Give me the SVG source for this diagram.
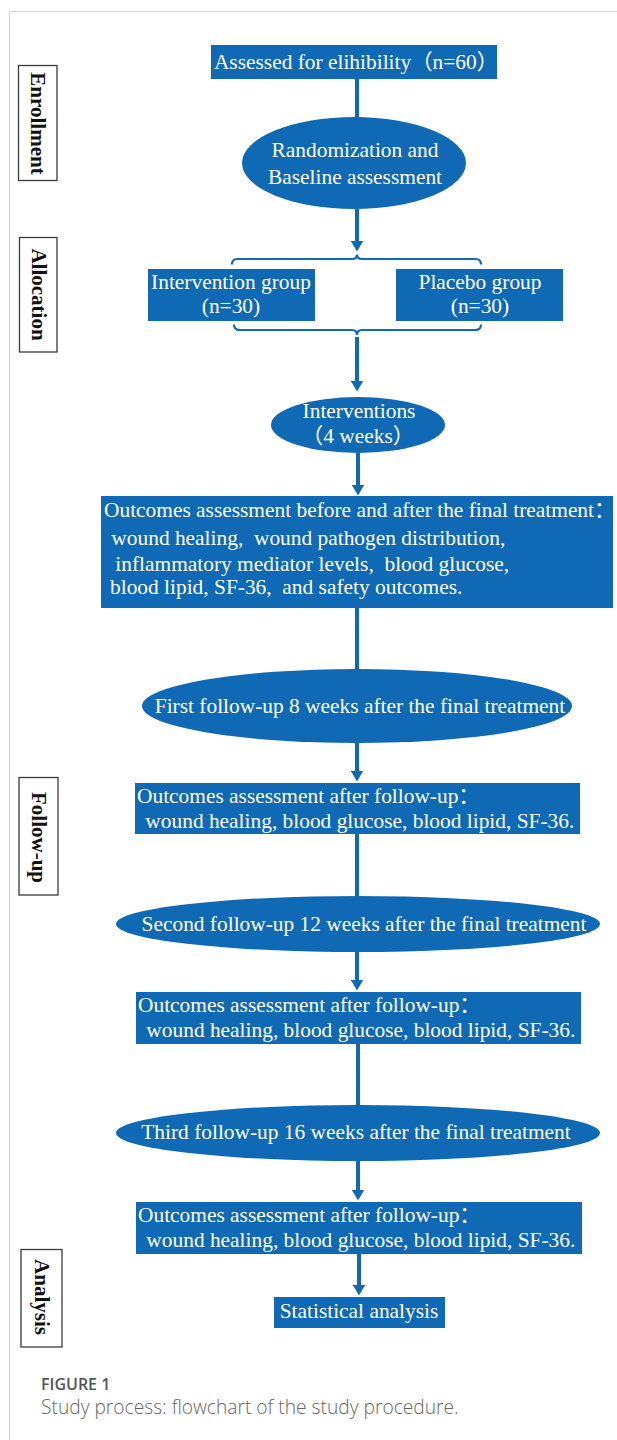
<svg xmlns="http://www.w3.org/2000/svg" width="617" height="1440" viewBox="0 0 617 1440">
<defs>
<style>
.n{fill:#0f69b4;}
.t{font-family:"Liberation Serif","Times New Roman","Noto Sans CJK SC",serif;font-size:21.4px;fill:#ffffff;white-space:pre;}
.c{text-anchor:middle;}
.lb{fill:#ffffff;stroke:#3a3a3a;stroke-width:1.3;}
.lt{font-family:"Liberation Serif","Times New Roman",serif;font-size:21px;font-weight:bold;fill:#111111;text-anchor:middle;}
.ln{stroke:#0f69b4;stroke-width:4;fill:none;}
.br{stroke:#0f69b4;stroke-width:2.2;fill:none;}
.cap1{font-family:"Open Sans","Noto Sans",sans-serif;font-size:16px;font-weight:600;fill:#555555;}
.cap2{font-family:"Open Sans","Noto Sans",sans-serif;font-size:19.2px;font-weight:300;fill:#666666;}
</style>
<marker id="ah" markerUnits="userSpaceOnUse" markerWidth="13" markerHeight="13" refX="0.5" refY="6.5" orient="auto">
<path d="M0,0 L11,6.5 L0,13 z" fill="#0f69b4"/>
</marker>
</defs>
<rect x="0" y="0" width="617" height="1440" fill="#ffffff"/>
<path d="M9.5,1440 L9.5,11.5 L617,11.5" stroke="#d4d4d4" stroke-width="1" fill="none"/>

<g id="label-enrollment">
<rect class="lb" x="18.5" y="65.5" width="38.5" height="115"/>
<text class="lt" transform="translate(31,123.5) rotate(90)">Enrollment</text>
</g>
<g id="label-allocation">
<rect class="lb" x="19.5" y="237.5" width="37.5" height="114.5"/>
<text class="lt" transform="translate(31.5,294.5) rotate(90)">Allocation</text>
</g>
<g id="label-followup">
<rect class="lb" x="19" y="777.5" width="39" height="117.5"/>
<text class="lt" transform="translate(32,837.5) rotate(90)">Follow-up</text>
</g>
<g id="label-analysis">
<rect class="lb" x="21" y="1249.5" width="41" height="97.5"/>
<text class="lt" transform="translate(35,1297) rotate(90)">Analysis</text>
</g>

<g id="connectors">
<line class="ln" x1="357" y1="79" x2="357" y2="118"/>
<line class="ln" x1="357" y1="209" x2="357" y2="241" marker-end="url(#ah)"/>
<path class="br" d="M232,264.5 Q232,259 237.5,259 L352,259 Q357,259 357,254.5 Q357,259 362,259 L475.5,259 Q481,259 481,264.5"/>
<path class="br" d="M234,324.5 Q234,330 239.5,330 L352,330 Q357,330 357,335 Q357,330 362,330 L475.5,330 Q481,330 481,324.5"/>
<line class="ln" x1="357" y1="337" x2="357" y2="381" marker-end="url(#ah)"/>
<line class="ln" x1="358" y1="453" x2="358" y2="485" marker-end="url(#ah)"/>
<line class="ln" x1="357" y1="608" x2="357" y2="670"/>
<line class="ln" x1="357" y1="743" x2="357" y2="771" marker-end="url(#ah)"/>
<line class="ln" x1="357" y1="834" x2="357" y2="897"/>
<line class="ln" x1="357" y1="952" x2="357" y2="980" marker-end="url(#ah)"/>
<line class="ln" x1="358" y1="1044" x2="358" y2="1106"/>
<line class="ln" x1="358" y1="1161" x2="358" y2="1190" marker-end="url(#ah)"/>
<line class="ln" x1="359" y1="1254" x2="359" y2="1285" marker-end="url(#ah)"/>
</g>

<g id="n-assessed">
<rect class="n" x="211" y="45" width="286" height="34"/>
<text class="t c" x="356" y="69">Assessed for elihibility（n=60）</text>
</g>
<g id="n-randomization">
<ellipse class="n" cx="354" cy="163" rx="112" ry="46"/>
<text class="t c" x="355" y="157">Randomization and</text>
<text class="t c" x="355" y="184">Baseline assessment</text>
</g>
<g id="n-intervention-group">
<rect class="n" x="148" y="269" width="167" height="52"/>
<text class="t c" x="231" y="289">Intervention group</text>
<text class="t c" x="231" y="313">(n=30)</text>
</g>
<g id="n-placebo-group">
<rect class="n" x="396" y="269" width="167" height="52"/>
<text class="t c" x="480" y="289">Placebo group</text>
<text class="t c" x="480" y="313">(n=30)</text>
</g>
<g id="n-interventions">
<ellipse class="n" cx="358" cy="425" rx="87" ry="28"/>
<text class="t c" x="359" y="418">Interventions</text>
<text class="t c" x="358" y="443">（4 weeks）</text>
</g>
<g id="n-outcomes-final">
<rect class="n" x="101" y="496" width="512" height="112"/>
<text class="t" x="104" y="517">Outcomes assessment before and after the final treatment：</text>
<text class="t" x="106" y="545"> wound healing,  wound pathogen distribution,</text>
<text class="t" x="110" y="571"> inflammatory mediator levels,  blood glucose,</text>
<text class="t" x="110" y="594">blood lipid, SF-36,  and safety outcomes.</text>
</g>
<g id="n-first-followup">
<ellipse class="n" cx="357" cy="706" rx="215" ry="37"/>
<text class="t c" x="360" y="713">First follow-up 8 weeks after the final treatment</text>
</g>
<g id="n-outcomes-1">
<rect class="n" x="135" y="783" width="445" height="51"/>
<text class="t" x="137" y="803">Outcomes assessment after follow-up：</text>
<text class="t" x="140" y="828"> wound healing, blood glucose, blood lipid, SF-36.</text>
</g>
<g id="n-second-followup">
<ellipse class="n" cx="358" cy="924" rx="242" ry="28"/>
<text class="t c" x="364" y="931">Second follow-up 12 weeks after the final treatment</text>
</g>
<g id="n-outcomes-2">
<rect class="n" x="136" y="992" width="445" height="52"/>
<text class="t" x="138" y="1012">Outcomes assessment after follow-up：</text>
<text class="t" x="141" y="1037"> wound healing, blood glucose, blood lipid, SF-36.</text>
</g>
<g id="n-third-followup">
<ellipse class="n" cx="358" cy="1133" rx="242" ry="28"/>
<text class="t c" x="356" y="1139">Third follow-up 16 weeks after the final treatment</text>
</g>
<g id="n-outcomes-3">
<rect class="n" x="136" y="1202" width="446" height="52"/>
<text class="t" x="138" y="1222">Outcomes assessment after follow-up：</text>
<text class="t" x="141" y="1247"> wound healing, blood glucose, blood lipid, SF-36.</text>
</g>
<g id="n-statistical">
<rect class="n" x="274" y="1297" width="171" height="31"/>
<text class="t c" x="359" y="1318">Statistical analysis</text>
</g>

<text class="cap1" x="41" y="1390">FIGURE 1</text>
<text class="cap2" x="41" y="1414">Study process: flowchart of the study procedure.</text>
</svg>
